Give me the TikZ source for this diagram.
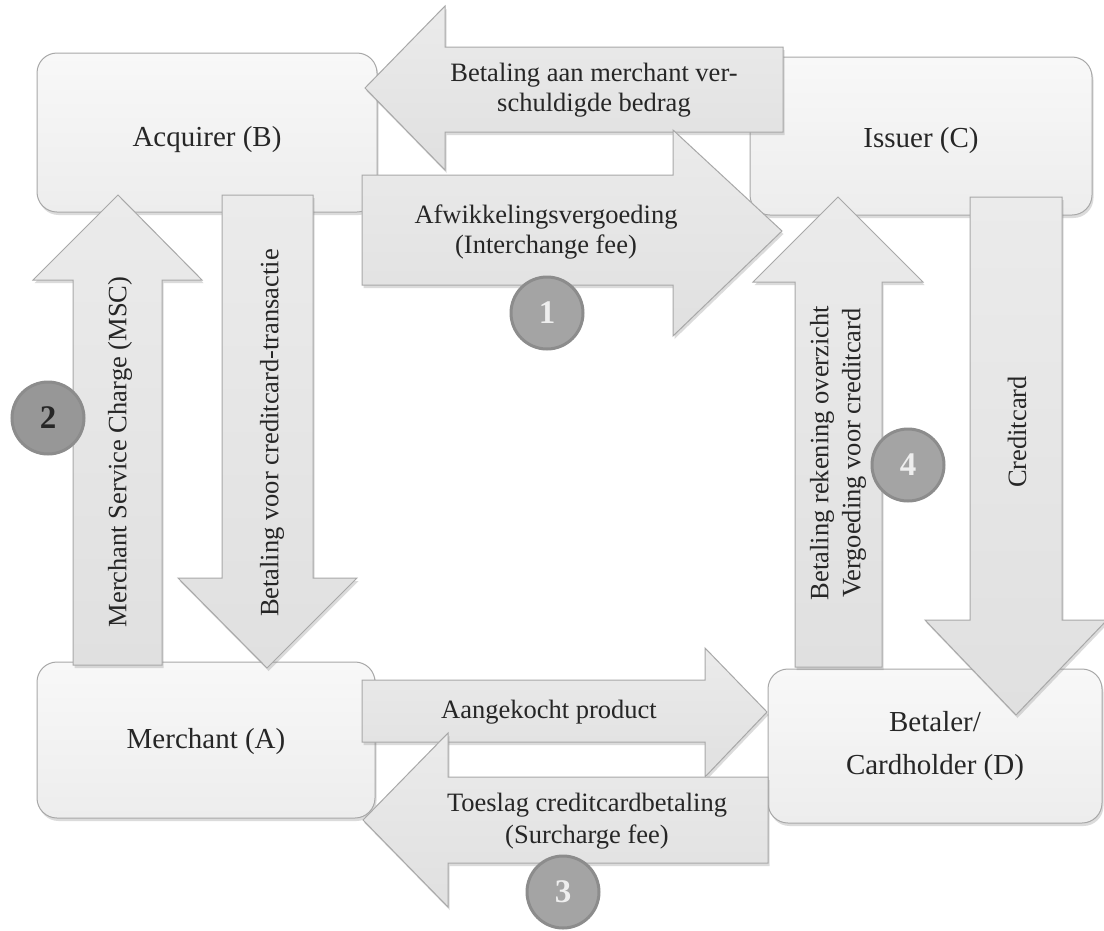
\documentclass[tikz,border=0pt]{standalone}
\usepackage{fontspec}
\setmainfont{Liberation Serif}
\usetikzlibrary{shadows}
\definecolor{boxtop}{HTML}{F8F8F8}
\definecolor{boxbot}{HTML}{EDEDED}
\definecolor{arrtop}{HTML}{EBEBEB}
\definecolor{arrbot}{HTML}{E0E0E0}
\definecolor{edgegray}{HTML}{A8A8A8}
\definecolor{txt}{HTML}{262626}
\definecolor{circfill}{HTML}{A4A4A4}
\definecolor{circedge}{HTML}{8C8C8C}
\definecolor{numlight}{HTML}{EEEEEE}
\begin{document}
\begin{tikzpicture}[x=1pt,y=-1pt,
  shadowstyle/.style={drop shadow={shadow xshift=1.5pt, shadow yshift=-3pt, opacity=0.28}},
  boxnode/.style={draw=edgegray, line width=1pt, top color=boxtop, bottom color=boxbot,
    rounded corners=20pt, shadowstyle, text=txt, font=\fontsize{29}{43}\selectfont,
    align=center, inner sep=0pt},
  blockarrow/.style={draw=edgegray, line width=1pt, top color=arrtop, bottom color=arrbot, shadowstyle},
  lbl/.style={text=txt, font=\fontsize{26.5}{30}\selectfont, align=center, inner sep=0pt},
  numc/.style={circle, fill=circfill, draw=circedge, line width=3pt, minimum size=72pt,
    inner sep=0pt, font=\fontsize{33}{33}\selectfont\bfseries, text=numlight}
]
\fill[white] (0,0) rectangle (1104,930);
\useasboundingbox (0,0) rectangle (1104,930);

% boxes
\node[boxnode, minimum width=340pt, minimum height=159pt, text height=28pt, text depth=0pt] (acq) at (207,132.5) {Acquirer (B)};
\node[boxnode, minimum width=342pt, minimum height=158pt, text height=22pt, text depth=0pt] (iss) at (921,136) {Issuer (C)};
\node[boxnode, minimum width=338pt, minimum height=156pt, text height=16pt, text depth=0pt] (mer) at (206,740) {Merchant (A)};
\node[boxnode, minimum width=334pt, minimum height=154pt] (bet) at (935,746) {Betaler/\\Cardholder (D)};

% block arrows
% top, pointing left
\draw[blockarrow] (365,88) -- (445,6) -- (445,47) -- (783,47) -- (783,132) -- (445,132) -- (445,170) -- cycle;
% interchange, pointing right
\draw[blockarrow] (362,175) -- (673,175) -- (673,130) -- (782,231) -- (673,336) -- (673,285) -- (362,285) -- cycle;
% MSC, up
\draw[blockarrow] (73,665) -- (73,280) -- (33,280) -- (118,195) -- (202,280) -- (162,280) -- (162,665) -- cycle;
% Betaling voor creditcard-transactie, down
\draw[blockarrow] (222,195) -- (313,195) -- (313,578) -- (357,578) -- (267,668) -- (178,578) -- (222,578) -- cycle;
% Creditcard, down
\draw[blockarrow] (970,197) -- (1062,197) -- (1062,620) -- (1107,620) -- (1016,715) -- (925,620) -- (970,620) -- cycle;
% Betaling rekening overzicht, up
\draw[blockarrow] (795,667) -- (795,282) -- (753,282) -- (838,197) -- (923,282) -- (882,282) -- (882,667) -- cycle;
% Aangekocht product, right
\draw[blockarrow] (362,680) -- (705,680) -- (705,648) -- (767,712) -- (705,777) -- (705,742) -- (362,742) -- cycle;
% Toeslag, left
\draw[blockarrow] (363,820) -- (448,733) -- (448,777) -- (768,777) -- (768,863) -- (448,863) -- (448,907) -- cycle;

% arrow labels
\node[lbl] (tbet) at (594,90) {Betaling aan merchant ver-\\schuldigde bedrag};
\node[lbl] (tafw) at (546,232) {Afwikkelingsvergoeding\\(Interchange fee)};
\node[lbl, rotate=90] (tmsc) at (120,452) {Merchant Service Charge (MSC)};
\node[lbl, rotate=90] (tbvc) at (272,433) {Betaling voor creditcard-transactie};
\node[lbl, rotate=90, font=\fontsize{26.5}{32}\selectfont] (treo) at (838,453) {Betaling rekening overzicht\\Vergoeding voor creditcard};
\node[lbl, rotate=90] (tcc) at (1017,432) {Creditcard};
\node[lbl] (taan) at (549,712) {Aangekocht product};
\node[lbl, font=\fontsize{26.5}{32}\selectfont] (ttoe) at (587,821) {Toeslag creditcardbetaling\\(Surcharge fee)};

% number circles
\node[numc] (n1) at (547,313) {1};
\node[numc, fill=circfill!92!black, text=txt] (n2) at (48,418) {2};
\node[numc] (n3) at (563,892) {3};
\node[numc] (n4) at (908,465) {4};
\end{tikzpicture}
\end{document}
